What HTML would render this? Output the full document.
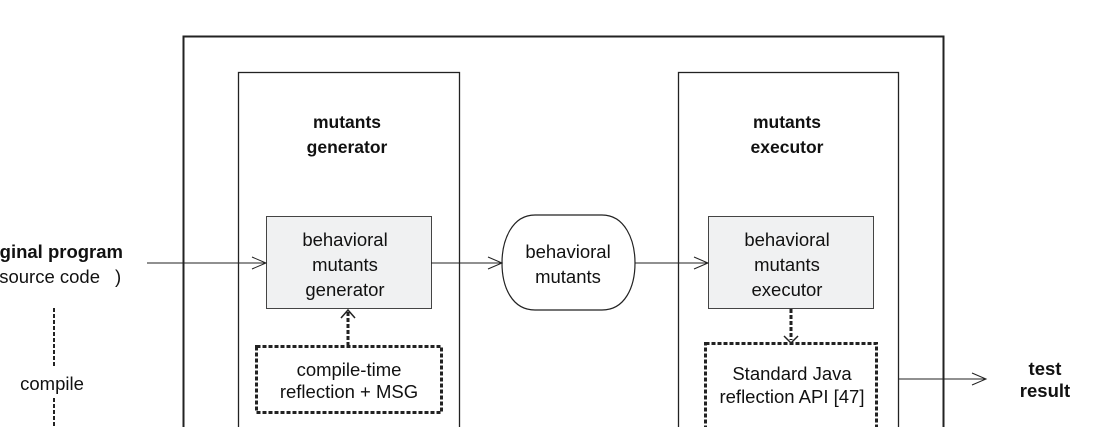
<!DOCTYPE html>
<html><head><style>body{margin:0;background:#fff}svg{display:block}text{font-family:"Liberation Sans",Arial,sans-serif;font-size:18.5px;fill:#111}</style></head><body>
<svg width="1118" height="427" viewBox="0 0 1118 427">
<g fill="none" stroke="#222">
<rect x="183.5" y="36.5" width="760" height="400" stroke-width="2"/>
<rect x="238.5" y="72.5" width="221" height="370" stroke-width="1.3"/>
<rect x="678.5" y="72.5" width="220" height="370" stroke-width="1.3"/>
<rect x="266.5" y="216.5" width="165" height="92" fill="#f0f1f2" stroke="#444"/>
<rect x="708.5" y="216.5" width="165" height="92" fill="#f0f1f2" stroke="#444"/>
<path d="M535,215 L602,215 C625,215 635,240 635,263 C635,287 625,310 602,310 L535,310 C512,310 502,287 502,263 C502,240 512,215 535,215 Z" stroke-width="1.2"/>
<line x1="147" y1="263" x2="266" y2="263"/><path d="M252,257 L266,263 L252,269"/>
<line x1="431" y1="263" x2="502" y2="263"/><path d="M488,257 L502,263 L488,269"/>
<line x1="635" y1="263" x2="708" y2="263"/><path d="M694,257 L708,263 L694,269"/>
<line x1="898" y1="379" x2="986" y2="379"/><path d="M972,373 L986,379 L972,385"/>
<g stroke-width="3" stroke-dasharray="4,2">
<rect x="256.5" y="346.5" width="185" height="66"/>
<rect x="705.5" y="343.5" width="171" height="100"/>
<line x1="348" y1="346" x2="348" y2="312"/>
<line x1="791" y1="309" x2="791" y2="340"/>
<line x1="54" y1="308" x2="54" y2="367" stroke-width="2"/>
<line x1="54" y1="398" x2="54" y2="427" stroke-width="2"/>
</g>
<path d="M341,318 L348,310 L355,318" stroke-width="1.5"/>
<path d="M784,336 L791,343 L798,336" stroke-width="1.5"/>
</g>
<g text-anchor="middle">
<text x="347" y="128" font-weight="bold" style="font-size:17.5px">mutants</text>
<text x="347" y="153" font-weight="bold" style="font-size:17.5px">generator</text>
<text x="787" y="128" font-weight="bold" style="font-size:17.5px">mutants</text>
<text x="787" y="153" font-weight="bold" style="font-size:17.5px">executor</text>
<text x="345" y="246">behavioral</text><text x="345" y="271">mutants</text><text x="345" y="296">generator</text>
<text x="787" y="246">behavioral</text><text x="787" y="271">mutants</text><text x="787" y="296">executor</text>
<text x="568" y="258">behavioral</text><text x="568" y="283">mutants</text>
<text x="349" y="376">compile-time</text><text x="349" y="398">reflection + MSG</text>
<text x="792" y="380">Standard Java</text><text x="792" y="403">reflection API [47]</text>
<text x="1045" y="375" font-weight="bold">test</text>
<text x="1045" y="397" font-weight="bold">result</text>
<text x="52" y="390">compile</text>
</g>
<text x="123" y="258" text-anchor="end" font-weight="bold">ginal program</text>
<text x="100" y="283" text-anchor="end">source code</text><text x="115" y="283">)</text>
</svg>
</body></html>
